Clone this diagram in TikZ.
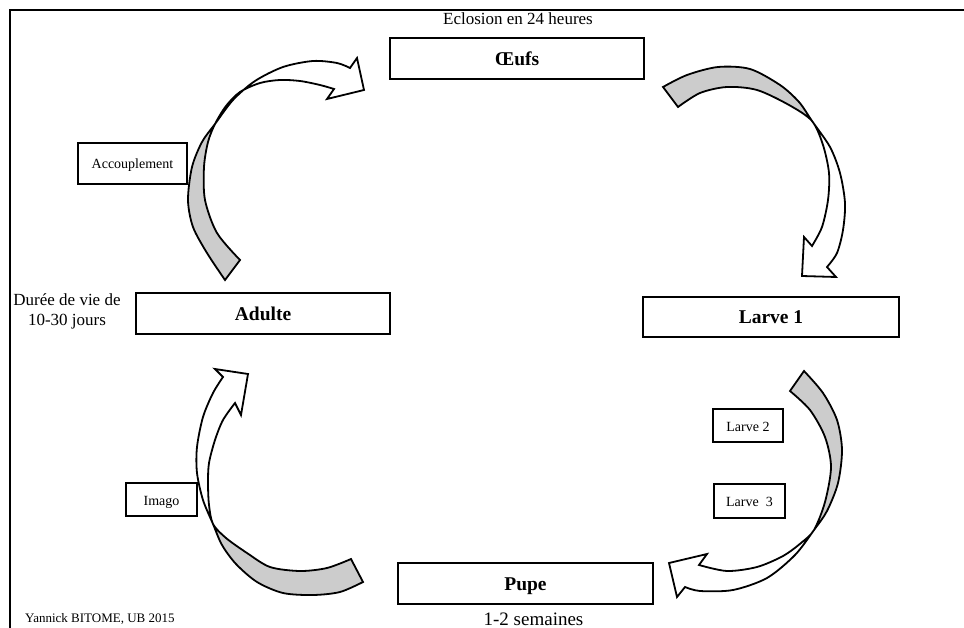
\documentclass[tikz,border=0pt]{standalone}
\usepackage{fontspec}
\setmainfont{Liberation Serif}
\begin{document}
\begin{tikzpicture}[x=1pt,y=-1pt,
  stage/.style={draw, line width=2pt, minimum height=41pt, inner sep=0pt,
    font=\fontsize{19.5}{22}\selectfont\bfseries, text height=14pt, text depth=0pt},
  tag/.style={draw, line width=2pt, inner sep=0pt,
    font=\fontsize{14}{16}\selectfont, text height=11pt, text depth=0pt},
  note/.style={inner sep=0pt, anchor=base, font=\fontsize{17}{20}\selectfont},
  band/.style={draw=black, line width=1.8pt, line join=miter}]
\useasboundingbox (0,0) rectangle (964,628);
\draw[line width=2pt] (10,628) -- (10,10) -- (964,10);

% main stages
\node[stage, minimum width=254pt] (oeufs)  at (517,58.5)  {Œufs};
\node[stage, minimum width=254pt] (adulte) at (263,313.5) {Adulte};
\node[stage, minimum width=256pt, minimum height=40pt] (larve1) at (771,317) {Larve 1};
\node[stage, minimum width=255pt] (pupe)   at (525.5,583.5) {Pupe};

% small tags
\node[tag, minimum width=109pt, minimum height=41pt] (accoup) at (132.5,163.5) {Accouplement};
\node[tag, minimum width=70pt, minimum height=33pt] (larve2) at (748,425.5) {Larve 2};
\node[tag, minimum width=71pt, minimum height=34pt] (larve3) at (749.5,501) {Larve\ \ 3};
\node[tag, minimum width=71pt, minimum height=33pt] (imago) at (161.5,499.5) {Imago};

% notes
\node[note] (eclosion) at (518,25) {Eclosion en 24 heures};
\node[note] (duree1) at (67,306) {Durée de vie de};
\node[note] (duree2) at (67,326) {10-30 jours};
\node[note, font=\fontsize{19}{22}\selectfont] (semaines) at (533.5,625) {1-2 semaines};
\node[note, anchor=base west, font=\fontsize{13}{15}\selectfont] (auteur) at (25,622) {Yannick BITOME, UB 2015};

% ---- curved arrows (twisted bands) ----
% arrow 1 : Adulte -> Oeufs
\path[save path=\arrA]
  plot[smooth] coordinates {(225,280) (207,253) (193,227) (188,200) (192,167) (202,142) (215,124) (233,100) (255,81) (283,67) (313,61) (337,63) (350,68)}
  -- (357,58) -- (364,90) -- (327,99)
  -- plot[smooth] coordinates {(334,89) (320,85) (300,81) (280,80) (260,83) (240,92) (226,106) (215,124) (208,142) (204,167) (205,200) (217,233) (240,260)} -- cycle;
% arrow 2 : Oeufs -> Larve 1
\path[save path=\arrB]
  plot[smooth] coordinates {(663,87) (687,75) (718,67) (750,69) (780,85) (799,102) (812,121) (830,147) (840,173) (845,203) (843,230) (837,253) (827,267)}
  -- (836,277) -- (802,276) -- (804,237)
  -- plot[smooth] coordinates {(812,246) (822,227) (828,200) (829,173) (823,145) (812,121) (789,105) (757,90) (727,87) (700,93) (678,107)} -- cycle;
% arrow 3 : Larve 1 -> Pupe
\path[save path=\arrC]
  plot[smooth] coordinates {(804,371) (823,393) (837,420) (842,450) (838,483) (827,511) (814,530) (795,555) (767,578) (733,590) (700,591) (685,587)}
  -- (677,597) -- (669,563) -- (707,554)
  -- plot[smooth] coordinates {(699,565) (727,571) (757,567) (783,556) (801,543) (814,530) (825,502) (831,467) (825,437) (810,410) (790,391)} -- cycle;
% arrow 4 : Pupe -> Adulte
\path[save path=\arrD]
  plot[smooth] coordinates {(363,582) (340,592) (313,595) (283,593) (257,582) (236,564) (222,545) (213,524) (203,500) (197,473) (197,447) (203,417) (213,393) (223,377)}
  -- (215,369) -- (248,374) -- (241,415)
  -- plot[smooth] coordinates {(235,403) (223,420) (215,440) (209,463) (208,483) (209,505) (213,524) (226,538) (247,553) (270,567) (300,571) (327,568) (351,559)} -- cycle;

\fill[white, use path=\arrA];
\fill[white, use path=\arrB];
\fill[white, use path=\arrC];
\fill[white, use path=\arrD];
\begin{scope}
  \clip (-5,-41) -- (435,289) -- (435,400) -- (-5,400) -- cycle;
  \fill[black!20, use path=\arrA];
\end{scope}
\begin{scope}
  \clip (592,272) -- (1032,-28) -- (592,-28) -- cycle;
  \fill[black!20, use path=\arrB];
\end{scope}
\begin{scope}
  \clip (574,360) -- (1054,700) -- (1054,340) -- (574,340) -- cycle;
  \fill[black!20, use path=\arrC];
\end{scope}
\begin{scope}
  \clip (-27,624) -- (453,424) -- (453,700) -- (-27,700) -- cycle;
  \fill[black!20, use path=\arrD];
\end{scope}
\draw[band, use path=\arrA];
\draw[band, use path=\arrB];
\draw[band, use path=\arrC];
\draw[band, use path=\arrD];
\end{tikzpicture}
\end{document}
